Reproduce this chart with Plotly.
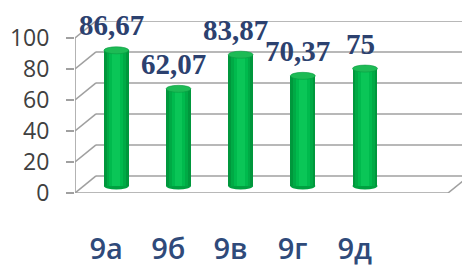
import plotly.graph_objects as go

categories = ["9а", "9б", "9в", "9г", "9д"]
values = [86.67, 62.07, 83.87, 70.37, 75]
value_labels = ["86,67", "62,07", "83,87", "70,37", "75"]
y_ticks = [0, 20, 40, 60, 80, 100]

n_slots = 6
bar_off = 0.665
bar_w = 0.40
back_dx = 0.338
back_dy = 10.97
x_max = 6.354
front_zero = -4.47
front_scale = 0.9904


def fy(v):
    return front_zero + v * front_scale


layers = [(1.0, "#00973C"), (0.78, "#00AA45"), (0.56, "#00BA4D"), (0.32, "#0AC657")]
xs = [i + bar_off for i in range(len(categories))]

fig = go.Figure()
for frac, col in layers:
    fig.add_trace(go.Bar(x=xs, y=values, width=bar_w * frac, marker=dict(color=col, line=dict(width=0)),
                         hoverinfo="skip", showlegend=False))
# invisible trace so the value axis (front wall scale) is drawn
fig.add_trace(go.Scatter(x=[0, 0], y=[y_ticks[0], y_ticks[-1]], yaxis="y2", mode="markers",
                         marker=dict(opacity=0, size=1), hoverinfo="skip", showlegend=False))

shapes = []
grid = "#A0A0A0"
lw = 1.6
for v in y_ticks:
    shapes.append(dict(type="line", xref="x", yref="y", x0=back_dx, x1=x_max, y0=fy(v + back_dy), y1=fy(v + back_dy),
                       line=dict(color=grid, width=lw), layer="between"))
    shapes.append(dict(type="line", xref="x", yref="y", x0=0, x1=back_dx, y0=fy(v), y1=fy(v + back_dy),
                       line=dict(color=grid, width=lw), layer="between"))
shapes.append(dict(type="line", xref="x", yref="y", x0=0, x1=n_slots, y0=fy(0), y1=fy(0),
                   line=dict(color=grid, width=lw), layer="between"))
shapes.append(dict(type="line", xref="x", yref="y", x0=n_slots, x1=n_slots + back_dx, y0=fy(0), y1=fy(back_dy),
                   line=dict(color=grid, width=lw), layer="between"))
shapes.append(dict(type="line", xref="x", yref="y", x0=0, x1=0, y0=fy(0), y1=fy(y_ticks[-1]),
                   line=dict(color=grid, width=lw), layer="between"))
for i in range(n_slots + 1):
    shapes.append(dict(type="line", xref="x", yref="y", x0=i, x1=i, ysizemode="pixel", yanchor=fy(0),
                       y0=0, y1=-10, line=dict(color=grid, width=lw), layer="between"))
for x, v in zip(xs, values):
    shapes.append(dict(type="circle", xref="x", yref="y", x0=x - bar_w / 2, x1=x + bar_w / 2,
                       ysizemode="pixel", yanchor=0, y0=-3.5, y1=3.5,
                       fillcolor="#00A040", line=dict(width=0), layer="between"))
    shapes.append(dict(type="circle", xref="x", yref="y", x0=x - bar_w / 2, x1=x + bar_w / 2,
                       ysizemode="pixel", yanchor=v, y0=-3.5, y1=3.5,
                       fillcolor="#1DBB55", line=dict(color="#0A9A42", width=0.6), layer="above"))

annotations = []
for x, v, t in zip(xs, values, value_labels):
    annotations.append(dict(x=x - 0.08, y=v, xref="x", yref="y", text=t, showarrow=False,
                            yanchor="middle", xanchor="center", yshift=25,
                            font=dict(family="Liberation Serif", size=29, color="#2C416F", weight="bold")))

# page body has an 8px default margin: figure occupies 462x258 of the 470x266 window
fig.update_layout(
    width=462, height=258,
    margin=dict(l=67, r=0, t=13, b=73),
    paper_bgcolor="white", plot_bgcolor="rgba(0,0,0,0)",
    barmode="overlay", bargap=0,
    showlegend=False,
    shapes=shapes, annotations=annotations,
    xaxis=dict(range=[0, x_max], tickvals=[i + 0.5 for i in range(len(categories))], ticktext=categories,
               showgrid=False, zeroline=False, showline=False, ticks="", ticklabelstandoff=36,
               automargin=False,
               tickfont=dict(family="Open Sans", size=29, color="#2F4A7A", weight=600), fixedrange=True),
    yaxis=dict(range=[-4.47, 105.4], showgrid=False, zeroline=False, showline=False,
               showticklabels=False, ticks="", automargin=False),
    yaxis2=dict(range=[0, 111.0], overlaying="y", side="left", anchor="x",
                tickvals=y_ticks, ticks="outside", ticklen=8, tickwidth=1.5, tickcolor=grid,
                showgrid=False, zeroline=False, showline=False, ticklabelstandoff=12, automargin=False,
                tickfont=dict(family="Open Sans", size=23, color="#404040")),
)

fig.write_html("out.html")
